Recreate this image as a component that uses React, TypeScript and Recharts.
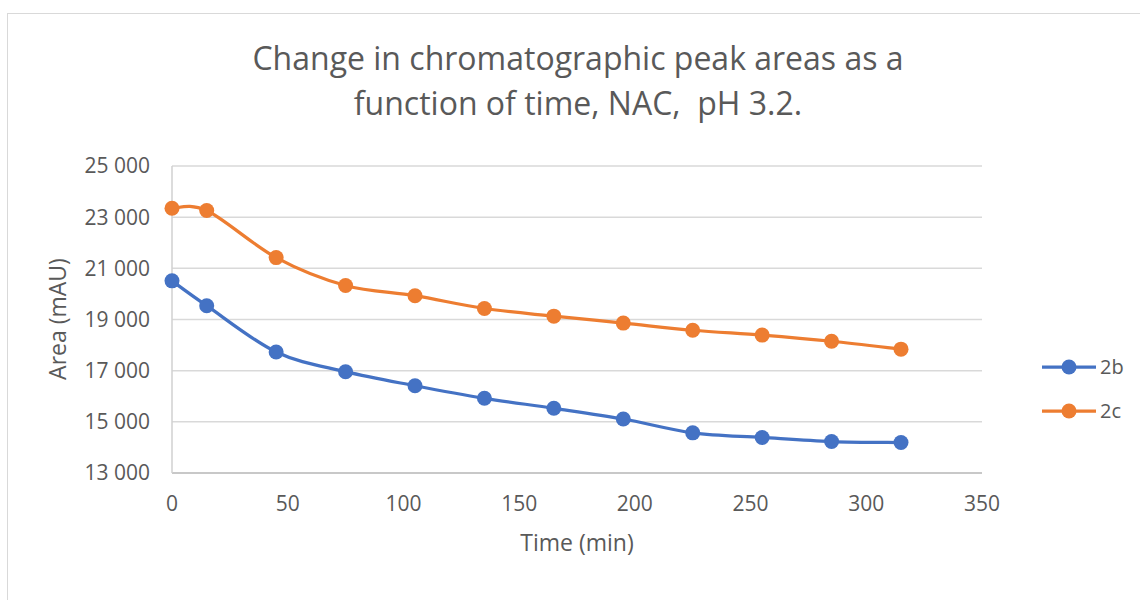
import React from 'react';
import { LineChart, Line, XAxis, YAxis, CartesianGrid } from 'recharts';

// Sampling times (min) and measured peak areas (mAU) for the two peaks
const timeMin = [0, 15, 45, 75, 105, 135, 165, 195, 225, 255, 285, 315];
const area2b = [20510, 19540, 17730, 16960, 16410, 15920, 15530, 15110, 14570, 14390, 14230, 14190];
const area2c = [23350, 23260, 21420, 20330, 19930, 19430, 19130, 18860, 18580, 18390, 18150, 17840];

const xTicks = [0, 50, 100, 150, 200, 250, 300, 350];
const yTicks = [13000, 15000, 17000, 19000, 21000, 23000, 25000];

const seriesNames = ['2b', '2c'];
const seriesColors = ['#4472C4', '#ED7D31'];

const titleLines = ['Change in chromatographic peak areas as a', 'function of time, NAC,  pH 3.2.'];

const data = timeMin.map((t, i) => ({ t, b: area2b[i], c: area2c[i] }));

const FONT = '"Open Sans", "Liberation Sans", sans-serif';
const TEXT = '#595959';

const fmtThousands = (v: number) => String(v).replace(/\B(?=(\d{3})+(?!\d))/g, ' ');

// Smoothed line through every point (Catmull-Rom style cubic segments)
const smoothCurve = (context: any) => {
  let pts: number[][] = [];
  return {
    areaStart() {},
    areaEnd() {},
    lineStart() {
      pts = [];
    },
    point(x: number, y: number) {
      pts.push([+x, +y]);
    },
    lineEnd() {
      const n = pts.length;
      if (!n) return;
      context.moveTo(pts[0][0], pts[0][1]);
      for (let i = 0; i < n - 1; i++) {
        const p0 = pts[Math.max(0, i - 1)];
        const p1 = pts[i];
        const p2 = pts[i + 1];
        const p3 = pts[Math.min(n - 1, i + 2)];
        context.bezierCurveTo(
          p1[0] + (p2[0] - p0[0]) / 6,
          p1[1] + (p2[1] - p0[1]) / 6,
          p2[0] - (p3[0] - p1[0]) / 6,
          p2[1] - (p3[1] - p1[1]) / 6,
          p2[0],
          p2[1]
        );
      }
    },
  };
};

export default function App() {
  const keys = ['b', 'c'];
  return (
    <div style={{ position: 'absolute', left: 0, top: 0, width: 1140, height: 600, background: '#fff', overflow: 'hidden', fontFamily: FONT }}>
      <div style={{ position: 'absolute', left: 7, top: 13, width: 1160, height: 620, border: '1.5px solid #d9d9d9', boxSizing: 'border-box' }} />
      <LineChart width={1140} height={600} data={data} margin={{ top: 166, right: 158, bottom: 87, left: 0 }}>
        <CartesianGrid vertical={false} stroke="#d9d9d9" strokeWidth={1.5} />
        <XAxis
          dataKey="t"
          type="number"
          domain={[0, 350]}
          ticks={xTicks}
          height={40}
          tickLine={false}
          tickSize={0}
          tickMargin={23}
          axisLine={{ stroke: '#bfbfbf', strokeWidth: 1.5 }}
          tick={{ fill: TEXT, fontSize: 21, fontFamily: FONT }}
        />
        <YAxis
          type="number"
          domain={[13000, 25000]}
          ticks={yTicks}
          width={172}
          tickLine={false}
          tickSize={0}
          tickMargin={22}
          axisLine={{ stroke: '#d0d0d0', strokeWidth: 1.5 }}
          tickFormatter={fmtThousands}
          tick={{ fill: TEXT, fontSize: 21, fontFamily: FONT }}
          interval={0}
        />
        {keys.map((k, i) => (
          <Line
            key={k}
            dataKey={k}
            name={seriesNames[i]}
            type={smoothCurve as any}
            stroke={seriesColors[i]}
            strokeWidth={3.25}
            dot={{ r: 7.5, fill: seriesColors[i], stroke: seriesColors[i], strokeWidth: 0 }}
            activeDot={false}
            isAnimationActive={false}
          />
        ))}
      </LineChart>
      <svg width={1140} height={600} style={{ position: 'absolute', left: 0, top: 0, pointerEvents: 'none' }}>
        <g fill={TEXT} fontFamily={FONT}>
          {titleLines.map((line, i) => (
            <text key={i} x={578} y={70 + i * 45} textAnchor="middle" fontSize={32} style={{ whiteSpace: 'pre' }}>
              {line}
            </text>
          ))}
          <text x={577} y={551} textAnchor="middle" fontSize={23}>
            Time (min)
          </text>
          <text x={0} y={0} transform="translate(66,319) rotate(-90)" textAnchor="middle" fontSize={23}>
            Area (mAU)
          </text>
          {seriesNames.map((name, i) => {
            const cy = 367 + i * 44;
            return (
              <g key={name}>
                <line x1={1042} x2={1096} y1={cy} y2={cy} stroke={seriesColors[i]} strokeWidth={3.25} />
                <circle cx={1069} cy={cy} r={7.5} fill={seriesColors[i]} />
                <text x={1100} y={cy + 7} fontSize={20}>
                  {name}
                </text>
              </g>
            );
          })}
        </g>
      </svg>
    </div>
  );
}
